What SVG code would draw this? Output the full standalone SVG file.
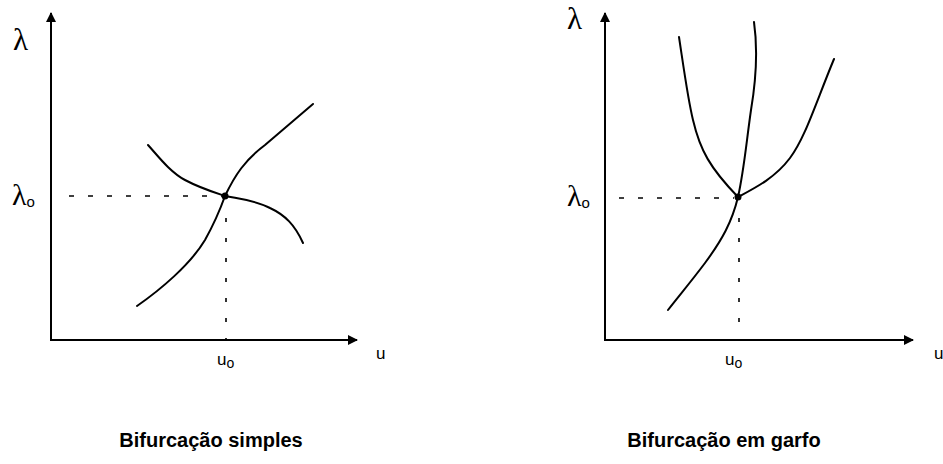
<svg xmlns="http://www.w3.org/2000/svg" width="943" height="464" viewBox="0 0 943 464">
<style>
.ax{stroke:#000;stroke-width:2;fill:none}
.cv{stroke:#000;stroke-width:2;fill:none;stroke-linecap:round;stroke-linejoin:round}
.dh{stroke:#000;stroke-width:1.6;fill:none;stroke-dasharray:5 14}
.dv{stroke:#000;stroke-width:1.6;fill:none;stroke-dasharray:4 16}
.gr{font-family:"Liberation Serif","DejaVu Serif",serif;fill:#000}
.lb{font-family:"Liberation Sans",Arial,sans-serif;fill:#000}
.tt{font-family:"Liberation Sans",Arial,sans-serif;font-weight:bold;font-size:20px;fill:#000;text-anchor:middle}
</style>
<defs>
<marker id="ah" viewBox="0 0 10 10" refX="9" refY="5" markerWidth="5" markerHeight="5" orient="auto" markerUnits="strokeWidth">
<path d="M0,0 L10,5 L0,10 z" fill="#000"/>
</marker>
</defs>
<g id="simples">
<g id="axes-left">
<line class="ax" x1="51" y1="341" x2="51" y2="13" marker-end="url(#ah)"/>
<line class="ax" x1="50" y1="340" x2="357" y2="340" marker-end="url(#ah)"/>
</g>
<g id="guides-left">
<line class="dh" x1="69" y1="196" x2="222" y2="196"/>
<line class="dv" x1="226" y1="218" x2="226" y2="340"/>
</g>
<g id="curves-left">
<path class="cv" d="M137,306 C160,290 190,265 205,240 C215,222 220,210 225,196 C235,175 245,160 265,145 C285,128 300,115 313,104"/>
<path class="cv" d="M148,145 C158,156 170,172 185,180 C200,188 213,192 225,196 C240,199 255,200 270,208 C285,215 295,225 303,243"/>
<circle cx="225" cy="196" r="3.5" fill="#000"/>
</g>
<g id="labels-left">
<text class="gr" x="13" y="50" font-size="31">λ</text>
<text class="gr" x="12" y="205" font-size="30">λ<tspan class="lb" font-size="15" dy="2">o</tspan></text>
<text class="lb" x="217" y="365" font-size="17">u<tspan font-size="14" dy="3">o</tspan></text>
<text class="lb" x="376" y="359" font-size="17">u</text>
<text class="tt" x="211" y="447">Bifurcação simples</text>
</g>
</g>
<g id="garfo">
<g id="axes-right">
<line class="ax" x1="605" y1="341" x2="605" y2="13" marker-end="url(#ah)"/>
<line class="ax" x1="604" y1="340" x2="913" y2="340" marker-end="url(#ah)"/>
</g>
<g id="guides-right">
<line class="dh" x1="619" y1="198" x2="734" y2="198"/>
<line class="dv" x1="739" y1="218" x2="739" y2="325"/>
</g>
<g id="curves-right">
<path class="cv" d="M679,37 C684,70 688,100 693,120 C700,150 710,168 738,197"/>
<path class="cv" d="M754,22 C758,50 756,80 751,110 C746,145 744,170 738,197 C732,222 722,240 705,263 C690,283 678,297 668,310"/>
<path class="cv" d="M738,197 C755,188 775,178 790,158 C805,138 815,105 834,59"/>
<circle cx="738" cy="197" r="3.5" fill="#000"/>
</g>
<g id="labels-right">
<text class="gr" x="567" y="29" font-size="31">λ</text>
<text class="gr" x="567" y="206" font-size="30">λ<tspan class="lb" font-size="15" dy="2">o</tspan></text>
<text class="lb" x="725" y="365" font-size="17">u<tspan font-size="14" dy="3">o</tspan></text>
<text class="lb" x="934" y="359" font-size="17">u</text>
<text class="tt" x="724" y="447">Bifurcação em garfo</text>
</g>
</g>
</svg>
